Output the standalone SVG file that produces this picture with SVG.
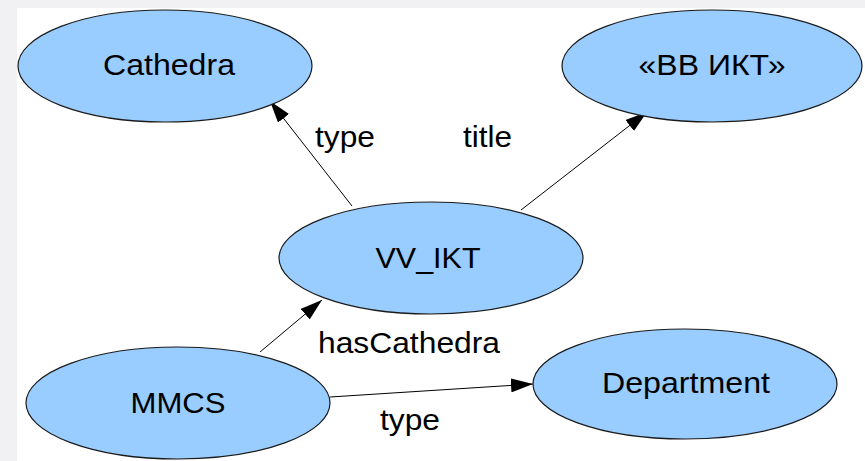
<svg xmlns="http://www.w3.org/2000/svg" width="865" height="461" viewBox="0 0 865 461">
<style>
.node ellipse{fill:#99ccff;stroke:#1a1a1a;stroke-width:1.2}
text{font-family:"Liberation Sans",Arial,sans-serif;font-size:29px;fill:#000}
.node text{text-anchor:middle}
.edges line{stroke:#000;stroke-width:1}
</style>
<defs>
<marker id="arr" viewBox="0 0 22 14" refX="22" refY="7" markerWidth="22" markerHeight="14" markerUnits="userSpaceOnUse" orient="auto">
<path d="M0,0 L22,7 L0,14 Z" fill="#000"/>
</marker>
</defs>
<rect width="865" height="461" fill="#f1f1f3"/>
<rect x="17" y="8" width="848" height="453" fill="#ffffff"/>
<g class="edges">
<line x1="352" y1="206" x2="270" y2="101" marker-end="url(#arr)"/>
<line x1="521" y1="210" x2="647" y2="112" marker-end="url(#arr)"/>
<line x1="260" y1="352" x2="322" y2="300" marker-end="url(#arr)"/>
<line x1="330" y1="397" x2="533" y2="384" marker-end="url(#arr)"/>
<text x="315" y="147" textLength="60" lengthAdjust="spacingAndGlyphs">type</text>
<text x="463" y="147" textLength="49" lengthAdjust="spacingAndGlyphs">title</text>
<text x="318" y="353" textLength="182" lengthAdjust="spacingAndGlyphs">hasCathedra</text>
<text x="380" y="430" textLength="60" lengthAdjust="spacingAndGlyphs">type</text>
</g>
<g id="cathedra" class="node">
<ellipse cx="165" cy="66" rx="147" ry="56"/>
<text x="169" y="75" textLength="132" lengthAdjust="spacingAndGlyphs">Cathedra</text>
</g>
<g id="vv-ikt-title" class="node">
<ellipse cx="712" cy="66" rx="150" ry="56"/>
<text x="712" y="75" textLength="147" lengthAdjust="spacingAndGlyphs">«ВВ ИКТ»</text>
</g>
<g id="vv-ikt" class="node">
<ellipse cx="431" cy="258" rx="152" ry="56"/>
<text x="428" y="268" textLength="105" lengthAdjust="spacingAndGlyphs">VV_IKT</text>
</g>
<g id="mmcs" class="node">
<ellipse cx="178" cy="403" rx="152" ry="56"/>
<text x="178" y="413" textLength="95" lengthAdjust="spacingAndGlyphs">MMCS</text>
</g>
<g id="department" class="node">
<ellipse cx="685" cy="384" rx="152" ry="55"/>
<text x="686" y="393" textLength="168" lengthAdjust="spacingAndGlyphs">Department</text>
</g>
</svg>
